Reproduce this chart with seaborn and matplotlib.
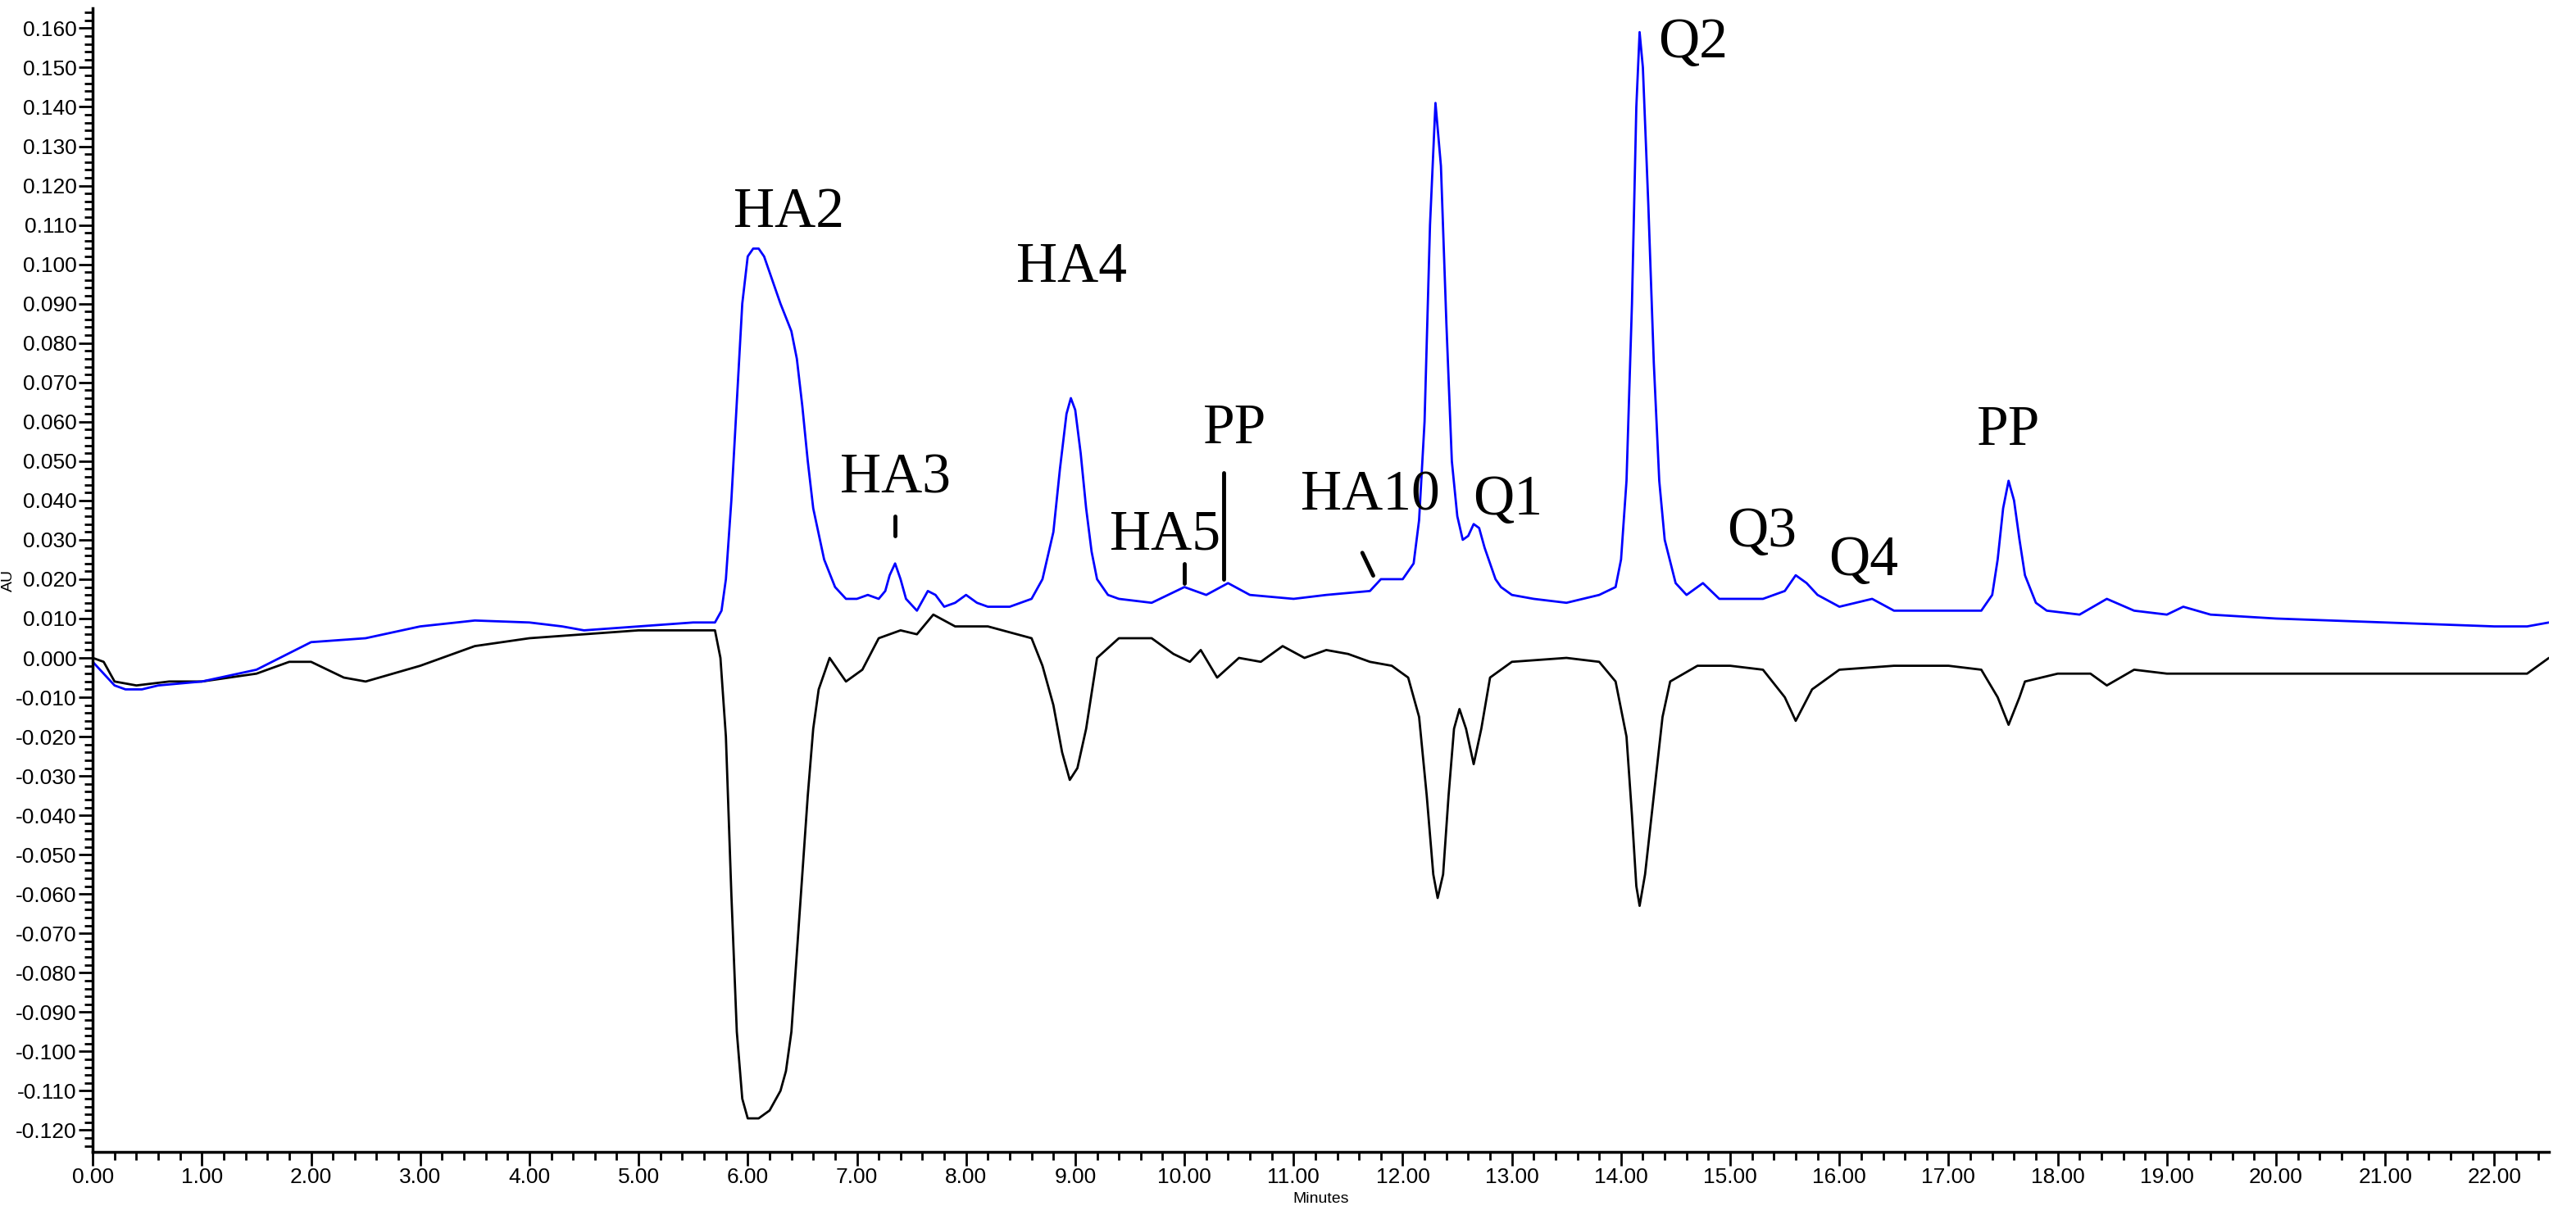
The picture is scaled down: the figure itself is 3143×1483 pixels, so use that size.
import numpy as np
import pandas as pd
import matplotlib
matplotlib.use("Agg")
import matplotlib.pyplot as plt
from matplotlib.ticker import MultipleLocator, FormatStrFormatter
import seaborn as sns

sns.set_style("white")
plt.rcParams['font.family'] = ['Liberation Sans', 'DejaVu Sans']
plt.rcParams['text.color'] = 'black'
plt.rcParams['axes.labelcolor'] = 'black'
plt.rcParams['xtick.color'] = 'black'
plt.rcParams['ytick.color'] = 'black'

# blue trace (time in minutes, absorbance in AU)
blue_t = [0.0, 0.1, 0.2, 0.3, 0.45, 0.6, 1.0, 1.5, 2.0, 2.5, 3.0, 3.5, 4.0, 4.3, 4.5, 5.0,
          5.5, 5.7, 5.76, 5.8, 5.85, 5.9, 5.95, 6.0, 6.05, 6.1, 6.15, 6.2, 6.3, 6.4, 6.45,
          6.5, 6.55, 6.6, 6.7, 6.8, 6.9, 7.0, 7.1, 7.2, 7.26, 7.3, 7.35, 7.4, 7.45, 7.55,
          7.65, 7.72, 7.8, 7.9, 8.0, 8.1, 8.2, 8.4, 8.6, 8.7, 8.8, 8.86, 8.92, 8.96, 9.0,
          9.05, 9.1, 9.15, 9.2, 9.3, 9.4, 9.7, 10.0, 10.2, 10.4, 10.6, 11.0, 11.3, 11.7,
          11.8, 12.0, 12.1, 12.15, 12.2, 12.25, 12.3, 12.35, 12.4, 12.45, 12.5, 12.55, 12.6,
          12.65, 12.7, 12.75, 12.85, 12.9, 13.0, 13.2, 13.5, 13.8, 13.95, 14.0, 14.05, 14.1,
          14.14, 14.17, 14.2, 14.25, 14.3, 14.35, 14.4, 14.5, 14.6, 14.75, 14.9, 15.3,
          15.5, 15.6, 15.7, 15.8, 16.0, 16.3, 16.5, 17.0, 17.3, 17.4, 17.45, 17.5, 17.55,
          17.6, 17.65, 17.7, 17.8, 17.9, 18.2, 18.45, 18.7, 19.0, 19.15, 19.4, 20.0, 21.0,
          22.0, 22.3, 22.5]
blue_au = [-0.001, -0.004, -0.007, -0.008, -0.008, -0.007, -0.006, -0.003, 0.004, 0.005,
           0.008, 0.0095, 0.009, 0.008, 0.007, 0.008, 0.009, 0.009, 0.012, 0.020, 0.040,
           0.065, 0.090, 0.102, 0.104, 0.104, 0.102, 0.098, 0.090, 0.083, 0.076, 0.064,
           0.050, 0.038, 0.025, 0.018, 0.015, 0.015, 0.016, 0.015, 0.017, 0.021, 0.024,
           0.020, 0.015, 0.012, 0.017, 0.016, 0.013, 0.014, 0.016, 0.014, 0.013, 0.013,
           0.015, 0.020, 0.032, 0.048, 0.062, 0.066, 0.063, 0.052, 0.038, 0.027, 0.020,
           0.016, 0.015, 0.014, 0.018, 0.016, 0.019, 0.016, 0.015, 0.016, 0.017, 0.020,
           0.020, 0.024, 0.035, 0.060, 0.110, 0.141, 0.125, 0.085, 0.050, 0.036, 0.030,
           0.031, 0.034, 0.033, 0.028, 0.020, 0.018, 0.016, 0.015, 0.014, 0.016, 0.018,
           0.025, 0.045, 0.090, 0.140, 0.159, 0.150, 0.115, 0.075, 0.045, 0.030, 0.019,
           0.016, 0.019, 0.015, 0.015, 0.017, 0.021, 0.019, 0.016, 0.013, 0.015, 0.012,
           0.012, 0.012, 0.016, 0.025, 0.038, 0.045, 0.040, 0.030, 0.021, 0.014, 0.012,
           0.011, 0.015, 0.012, 0.011, 0.013, 0.011, 0.010, 0.009, 0.008, 0.008, 0.009]

# black trace
black_t = [0.0, 0.1, 0.2, 0.4, 0.7, 1.0, 1.5, 1.8, 2.0, 2.3, 2.5, 3.0, 3.5, 4.0, 4.5, 5.0,
           5.5, 5.7, 5.75, 5.8, 5.85, 5.9, 5.95, 6.0, 6.1, 6.2, 6.3, 6.35, 6.4, 6.45, 6.5,
           6.55, 6.6, 6.65, 6.75, 6.9, 7.05, 7.2, 7.4, 7.55, 7.7, 7.9, 8.2, 8.6, 8.7, 8.8,
           8.88, 8.95, 9.02, 9.1, 9.2, 9.4, 9.7, 9.9, 10.05, 10.15, 10.3, 10.5, 10.7, 10.9,
           11.1, 11.3, 11.5, 11.7, 11.9, 12.05, 12.15, 12.22, 12.28, 12.32, 12.37, 12.42,
           12.47, 12.52, 12.58, 12.65, 12.72, 12.8, 13.0, 13.5, 13.8, 13.95, 14.05, 14.1,
           14.14, 14.17, 14.22, 14.3, 14.38, 14.45, 14.7, 15.0, 15.3, 15.5, 15.6, 15.75,
           16.0, 16.5, 17.0, 17.3, 17.45, 17.55, 17.65, 17.7, 18.0, 18.3, 18.45, 18.7, 19.0,
           20.0, 21.0, 22.0, 22.3, 22.5]
black_au = [0.000, -0.001, -0.006, -0.007, -0.006, -0.006, -0.004, -0.001, -0.001, -0.005,
            -0.006, -0.002, 0.003, 0.005, 0.006, 0.007, 0.007, 0.007, 0.000, -0.020,
            -0.060, -0.095, -0.112, -0.117, -0.117, -0.115, -0.110, -0.105, -0.095, -0.075,
            -0.055, -0.035, -0.018, -0.008, 0.000, -0.006, -0.003, 0.005, 0.007, 0.006,
            0.011, 0.008, 0.008, 0.005, -0.002, -0.012, -0.024, -0.031, -0.028, -0.018,
            0.000, 0.005, 0.005, 0.001, -0.001, 0.002, -0.005, 0.000, -0.001, 0.003, 0.000,
            0.002, 0.001, -0.001, -0.002, -0.005, -0.015, -0.035, -0.055, -0.061, -0.055,
            -0.035, -0.018, -0.013, -0.018, -0.027, -0.018, -0.005, -0.001, 0.000, -0.001,
            -0.006, -0.020, -0.040, -0.058, -0.063, -0.055, -0.035, -0.015, -0.006, -0.002,
            -0.002, -0.003, -0.010, -0.016, -0.008, -0.003, -0.002, -0.002, -0.003, -0.010,
            -0.017, -0.010, -0.006, -0.004, -0.004, -0.007, -0.003, -0.004, -0.004, -0.004,
            -0.004, -0.004, 0.000]

# peak labels
labels = ["HA2", "HA3", "HA4", "HA5", "PP", "HA10", "Q1", "Q2", "Q3", "Q4", "PP"]
label_t = [6.38, 7.35, 8.97, 9.82, 10.46, 11.7, 12.96, 14.66, 15.29, 16.22, 17.55]
label_au = [0.113, 0.0455, 0.099, 0.031, 0.058, 0.041, 0.040, 0.156, 0.0317, 0.0246, 0.0576]

# marker lines (x0, x1, y0, y1)
mark_x0 = [7.35, 10.0, 10.36, 11.63]
mark_x1 = [7.35, 10.0, 10.36, 11.73]
mark_y0 = [0.031, 0.019, 0.020, 0.0267]
mark_y1 = [0.036, 0.024, 0.047, 0.0209]

blue = pd.DataFrame({"t": blue_t, "au": blue_au})
black = pd.DataFrame({"t": black_t, "au": black_au})

fig = plt.figure(figsize=(31.43, 14.83), dpi=100)
ax = fig.add_axes([0.036, 0.052, 0.9535, 0.941])

sns.lineplot(data=black, x="t", y="au", color="black", linewidth=2, ax=ax, sort=False)
sns.lineplot(data=blue, x="t", y="au", color="blue", linewidth=2, ax=ax, sort=False)

for s, x, y in zip(labels, label_t, label_au):
    ax.text(x, y, s, family="Liberation Serif", fontsize=50, ha="center", va="center")
for x0, x1, y0, y1 in zip(mark_x0, mark_x1, mark_y0, mark_y1):
    ax.plot([x0, x1], [y0, y1], color="black", linewidth=3.5)

ax.set_xlim(0, 22.5)
ax.set_ylim(-0.1255, 0.165)
ax.xaxis.set_major_locator(MultipleLocator(1))
ax.xaxis.set_minor_locator(MultipleLocator(0.2))
ax.yaxis.set_major_locator(MultipleLocator(0.01))
ax.yaxis.set_minor_locator(MultipleLocator(0.002))
ax.xaxis.set_major_formatter(FormatStrFormatter("%.2f"))
ax.yaxis.set_major_formatter(FormatStrFormatter("%.3f"))
ax.tick_params(which="major", length=12, width=2, labelsize=19, direction="out",
               bottom=True, left=True, pad=2)
ax.tick_params(which="minor", length=7, width=2, direction="out", bottom=True, left=True)
sns.despine(ax=ax)
for sp in ["left", "bottom"]:
    ax.spines[sp].set_linewidth(2.5)
    ax.spines[sp].set_color("black")
ax.set_xlabel("Minutes", fontsize=14, labelpad=4)
ax.set_ylabel("AU", fontsize=14, labelpad=0)

fig.savefig("out.png", dpi=100)
